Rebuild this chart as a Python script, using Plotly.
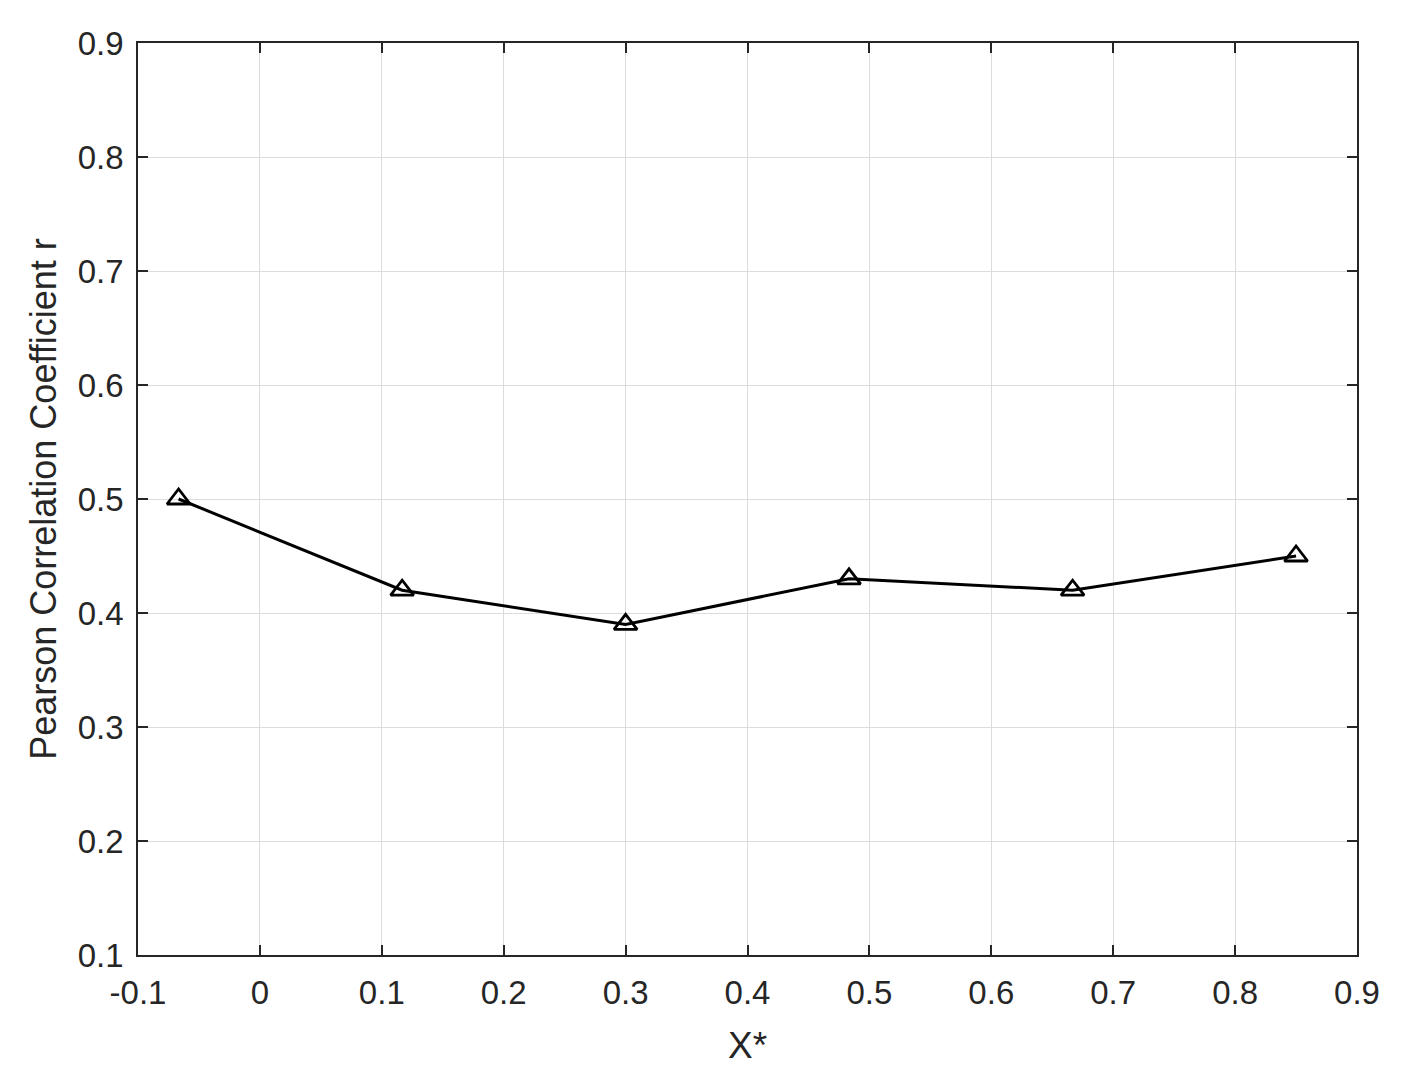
import plotly.graph_objects as go

x_vals = [-0.0667, 0.1167, 0.3, 0.4833, 0.6667, 0.85]
r_vals = [0.50, 0.42, 0.39, 0.43, 0.42, 0.45]
x_ticks = [-0.1, 0, 0.1, 0.2, 0.3, 0.4, 0.5, 0.6, 0.7, 0.8, 0.9]
x_tick_labels = ["-0.1", "0", "0.1", "0.2", "0.3", "0.4", "0.5", "0.6", "0.7", "0.8", "0.9"]
y_ticks = [0.1, 0.2, 0.3, 0.4, 0.5, 0.6, 0.7, 0.8, 0.9]
y_tick_labels = ["0.1", "0.2", "0.3", "0.4", "0.5", "0.6", "0.7", "0.8", "0.9"]

fig = go.Figure()
fig.add_trace(go.Scatter(
    x=x_vals, y=r_vals, mode="lines+markers",
    line=dict(color="black", width=3),
    marker=dict(symbol="triangle-up-open", size=20, color="black", line=dict(width=2.8, color="black")),
    showlegend=False,
))

font_family = "Liberation Sans, Arial, sans-serif"
axis_common = dict(
    showline=True, linecolor="#262626", linewidth=1.5, mirror="ticks",
    ticks="inside", ticklen=10, tickwidth=1.5, tickcolor="#262626",
    showgrid=True, gridcolor="#dcdcdc", gridwidth=1,
    zeroline=False,
    tickfont=dict(family=font_family, size=33, color="#262626"),
)

fig.update_layout(
    width=1411, height=1081,
    margin=dict(l=130, r=62, t=35, b=134),
    paper_bgcolor="white", plot_bgcolor="white",
    xaxis=dict(range=[-0.1, 0.9], tickvals=x_ticks, ticktext=x_tick_labels,
               ticklabelstandoff=8,
               title=dict(text="X*", font=dict(family=font_family, size=37, color="#262626"), standoff=22),
               **axis_common),
    yaxis=dict(range=[0.1, 0.9], tickvals=y_ticks, ticktext=y_tick_labels,
               ticklabelstandoff=6,
               title=dict(text="Pearson Correlation Coefficient r", font=dict(family=font_family, size=36, color="#262626"), standoff=10),
               **axis_common),
)

fig.write_html("out.html")
